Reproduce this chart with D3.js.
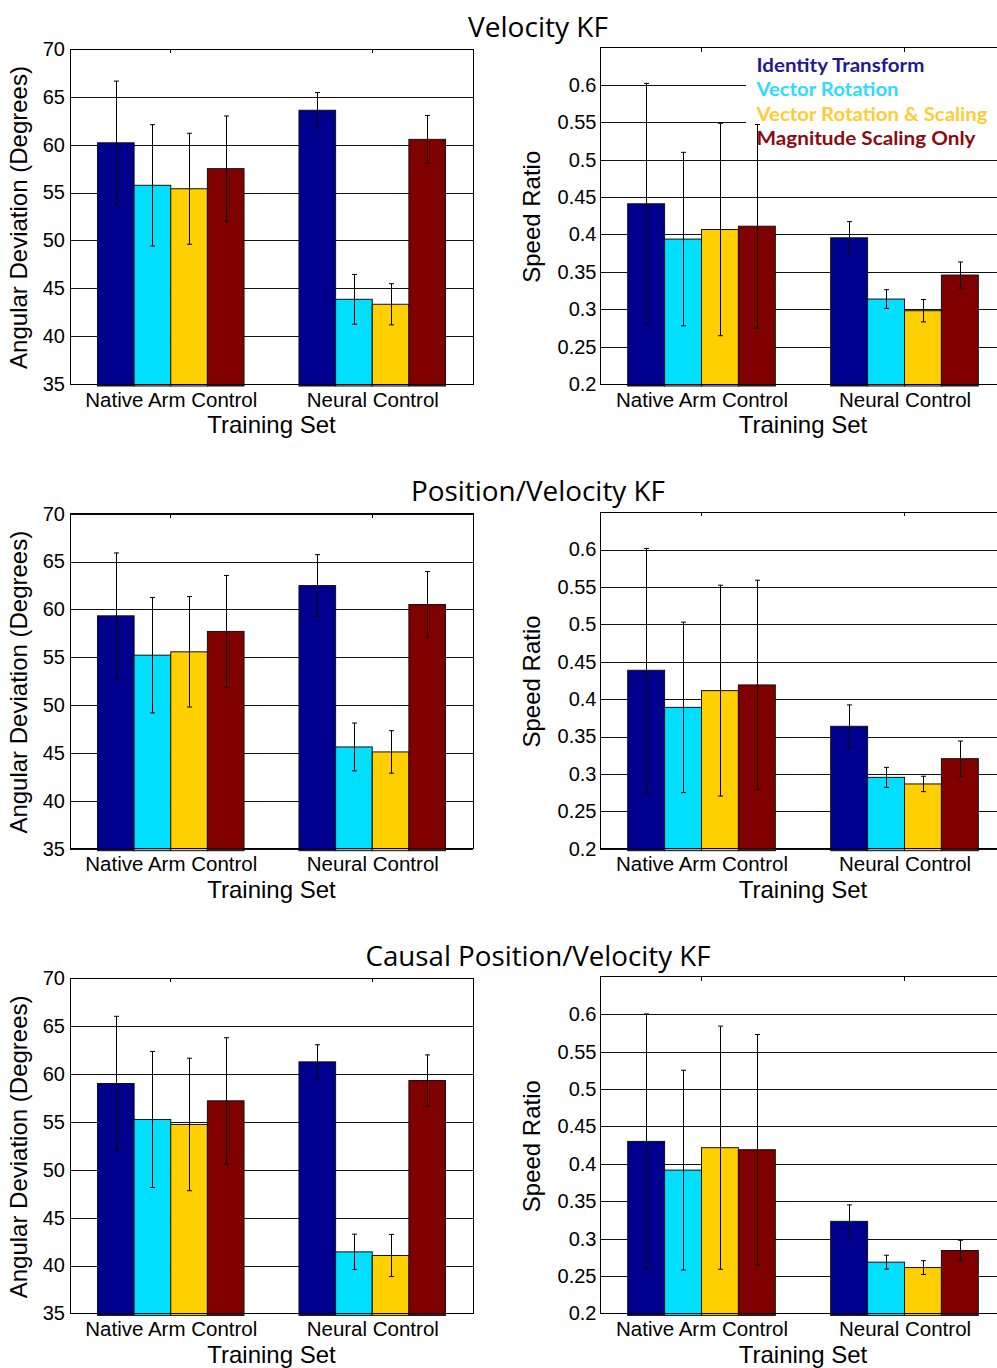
<!DOCTYPE html>
<html><head><meta charset="utf-8">
<script src="https://cdn.jsdelivr.net/npm/d3@7"></script>
<style>body{margin:0;background:#fff} svg{display:block}</style>
</head><body>
<svg id="chart" width="997" height="1368"></svg>
<script>
// ---------------- data ----------------
const categories = ["Native Arm Control", "Neural Control"];
const seriesNames = ["Identity Transform", "Vector Rotation", "Vector Rotation & Scaling", "Magnitude Scaling Only"];
const panelTitles = ["Velocity KF", "Position/Velocity KF", "Causal Position/Velocity KF"];
const xAxisTitle = "Training Set";
const angleTitle = "Angular Deviation (Degrees)";
const speedTitle = "Speed Ratio";
const angleTicks = [35, 40, 45, 50, 55, 60, 65, 70];
const angleDomain = [35, 70];
const speedTicks = [0.2, 0.25, 0.3, 0.35, 0.4, 0.45, 0.5, 0.55, 0.6];
const speedDomain = [0.2, 0.65];

// each array: one row per series, [Native Arm Control, Neural Control]
const angleVelKF      = [[60.2, 63.6], [55.76, 43.85], [55.4, 43.33], [57.5, 60.56]];
const angleVelKFErr   = [[6.45, 1.85], [6.34, 2.6], [5.8, 2.15], [5.5, 2.5]];
const anglePosVelKF   = [[59.33, 62.49], [55.22, 45.63], [55.57, 45.11], [57.7, 60.51]];
const anglePosVelKFErr= [[6.57, 3.23], [6.03, 2.5], [5.77, 2.22], [5.85, 3.44]];
const angleCausalKF   = [[59.02, 61.28], [55.26, 41.43], [54.74, 41.05], [57.21, 59.33]];
const angleCausalKFErr= [[7.02, 1.79], [7.11, 1.85], [6.92, 2.2], [6.59, 2.68]];

const speedVelKF      = [[0.441, 0.3955], [0.3938, 0.3136], [0.4066, 0.298], [0.411, 0.3457]];
const speedVelKFErr   = [[0.161, 0.0216], [0.116, 0.0125], [0.142, 0.015], [0.136, 0.0175]];
const speedPosVelKF   = [[0.4386, 0.3637], [0.389, 0.2954], [0.4114, 0.2866], [0.419, 0.3204]];
const speedPosVelKFErr= [[0.163, 0.0286], [0.114, 0.0134], [0.141, 0.0103], [0.14, 0.0236]];
const speedCausalKF   = [[0.430, 0.3231], [0.3916, 0.2685], [0.4216, 0.2613], [0.4189, 0.2841]];
const speedCausalKFErr= [[0.1705, 0.022], [0.1336, 0.0093], [0.1626, 0.0092], [0.154, 0.0137]];

// ---------------- style ----------------
const barColors = ["#00008f", "#00dfff", "#ffcf00", "#800000"];
const legendColors = ["#1f1a8f", "#2ddcff", "#ffcc33", "#8c0a10"];
const SANS = "'Liberation Sans', Arial, Helvetica, sans-serif";
const HUMAN = "'Open Sans', 'Noto Sans', sans-serif";
const LEGENDFONT = "Lato, 'Open Sans', sans-serif";

const svg = d3.select("#chart");
const ROW = 464.7;

const angleData = [[angleVelKF, angleVelKFErr], [anglePosVelKF, anglePosVelKFErr], [angleCausalKF, angleCausalKFErr]];
const speedData = [[speedVelKF, speedVelKFErr], [speedPosVelKF, speedPosVelKFErr], [speedCausalKF, speedCausalKFErr]];

function drawPanel(opt) {
  const g = svg.append("g");
  const x = d3.scaleLinear().domain([0.5, 2.5]).range([opt.x0, opt.x1]);
  const y = d3.scaleLinear().domain(opt.domain).range([opt.bottom, opt.top]);
  const W = opt.x1 - opt.x0;

  // grid
  const grid = g.append("g").attr("transform", `translate(${opt.x0},0)`)
    .call(d3.axisLeft(y).tickValues(opt.ticks).tickSize(-W).tickFormat(""));
  grid.select(".domain").remove();
  grid.selectAll("line").attr("stroke", "#111").attr("stroke-width", 1).attr("shape-rendering", "crispEdges");

  // legend background (covers grid)
  if (opt.legend) {
    g.append("rect").attr("x", 746).attr("y", 51).attr("width", 270).attr("height", 99).attr("fill", "#fff");
    seriesNames.forEach((name, i) => {
      g.append("text").attr("x", 756.5).attr("y", 71.5 + i * 24.6)
        .attr("fill", legendColors[i]).attr("font-family", LEGENDFONT).attr("font-weight", 700)
        .attr("font-size", 19.5).attr("textLength", opt.legendWidths[i]).attr("lengthAdjust", "spacingAndGlyphs")
        .text(name);
    });
  }

  // bars
  const gw = 4 / 5.5, bw = gw / 4;
  const base = y(opt.domain[0]) + 2;
  opt.means.forEach((row, s) => {
    row.forEach((v, c) => {
      const cx = c + 1 + (s - 1.5) * bw;
      g.append("rect")
        .attr("x", x(cx - bw / 2)).attr("width", x(cx + bw / 2) - x(cx - bw / 2))
        .attr("y", y(v)).attr("height", base - y(v))
        .attr("fill", barColors[s]).attr("stroke", "#111").attr("stroke-width", 1);
    });
  });
  // error bars
  opt.means.forEach((row, s) => {
    row.forEach((v, c) => {
      const cx = Math.round(x(c + 1 + (s - 1.5) * bw)) + 0.5;
      const e = opt.errs[s][c];
      const y1 = y(v + e), y2 = y(v - e);
      const eg = g.append("g").attr("stroke", "#000").attr("stroke-width", 1);
      eg.append("line").attr("x1", cx).attr("x2", cx).attr("y1", y1).attr("y2", y2);
      eg.append("line").attr("x1", cx - 2.5).attr("x2", cx + 2.5).attr("y1", y1).attr("y2", y1);
      eg.append("line").attr("x1", cx - 2.5).attr("x2", cx + 2.5).attr("y1", y2).attr("y2", y2);
    });
  });

  // box
  g.append("rect").attr("x", opt.x0).attr("y", opt.top).attr("width", W).attr("height", opt.bottom - opt.top)
    .attr("fill", "none").attr("stroke", "#000").attr("stroke-width", 1).attr("shape-rendering", "crispEdges");
  // top x ticks
  [1, 2].forEach(k => {
    g.append("line").attr("x1", x(k)).attr("x2", x(k)).attr("y1", opt.top).attr("y2", opt.top + 4)
      .attr("stroke", "#000").attr("shape-rendering", "crispEdges");
  });

  // y tick labels
  const ya = g.append("g").attr("transform", `translate(${opt.x0},0)`)
    .call(d3.axisLeft(y).tickValues(opt.ticks).tickSize(0).tickPadding(opt.pad).tickFormat(d => String(+d.toFixed(2))));
  ya.select(".domain").remove();
  ya.selectAll("text").attr("font-family", SANS).attr("font-size", 20).attr("fill", "#000");

  // x tick labels
  const xa = g.append("g").attr("transform", `translate(0,${opt.bottom})`)
    .call(d3.axisBottom(x).tickValues([1, 2]).tickSize(0).tickPadding(8).tickFormat(d => categories[d - 1]));
  xa.select(".domain").remove();
  xa.selectAll("text").attr("font-family", SANS).attr("font-size", 20.5).attr("fill", "#000");

  // axis titles
  g.append("text").attr("x", (opt.x0 + Math.min(opt.x1, 1006)) / 2).attr("y", opt.bottom + 49.3)
    .attr("text-anchor", "middle").attr("font-family", SANS).attr("font-size", 24).text(xAxisTitle);
  g.append("text").attr("transform", `translate(${opt.ylabX},${(opt.top + opt.bottom) / 2 + 1}) rotate(-90)`)
    .attr("text-anchor", "middle").attr("font-family", SANS).attr("font-size", 24).text(opt.ytitle);
}

for (let r = 0; r < 3; r++) {
  const off = r * ROW;
  svg.append("text").attr("x", 538).attr("y", 36.7 + off).attr("text-anchor", "middle")
    .attr("font-family", HUMAN).attr("font-size", 27)
    .attr("textLength", [140, 254, 345][r]).attr("lengthAdjust", "spacingAndGlyphs")
    .text(panelTitles[r]);

  drawPanel({
    x0: 70, x1: 473, top: 49 + off, bottom: 384 + off, domain: angleDomain, ticks: angleTicks,
    means: angleData[r][0], errs: angleData[r][1], pad: 5, ylabX: 27, ytitle: angleTitle
  });
  drawPanel({
    x0: 600, x1: 1006, top: 47.5 + off, bottom: 384 + off, domain: speedDomain, ticks: speedTicks,
    means: speedData[r][0], errs: speedData[r][1], pad: 3.5, ylabX: 540, ytitle: speedTitle,
    legend: r === 0, legendWidths: [168, 142, 231, 219]
  });
}
</script>
</body></html>
